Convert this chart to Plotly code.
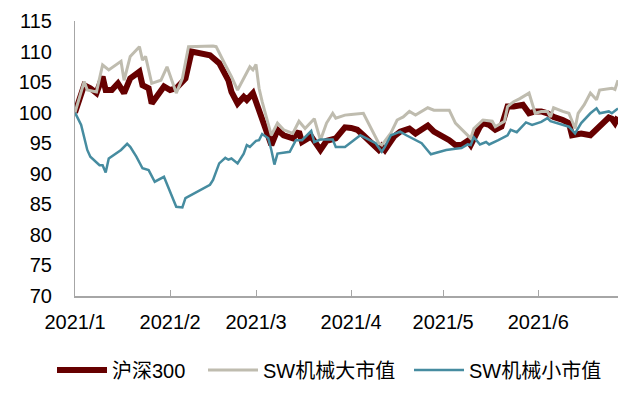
import plotly.graph_objects as go

# ---------------- data ----------------
hs300_dates = ["2021-01-04","2021-01-07","2021-01-09","2021-01-11","2021-01-13","2021-01-14","2021-01-16",
               "2021-01-18","2021-01-20","2021-01-22","2021-01-25","2021-01-26","2021-01-28","2021-01-29",
               "2021-02-02","2021-02-04","2021-02-06","2021-02-09","2021-02-11","2021-02-17","2021-02-20",
               "2021-02-23","2021-02-24","2021-02-26","2021-02-28","2021-03-01","2021-03-03","2021-03-05",
               "2021-03-06","2021-03-09","2021-03-11","2021-03-13","2021-03-16","2021-03-18","2021-03-19",
               "2021-03-22","2021-03-25","2021-03-27","2021-03-30","2021-04-02","2021-04-04","2021-04-06",
               "2021-04-08","2021-04-10","2021-04-13","2021-04-14","2021-04-15","2021-04-18","2021-04-20",
               "2021-04-23","2021-04-25","2021-04-29","2021-05-01","2021-05-06","2021-05-08","2021-05-10",
               "2021-05-12","2021-05-13","2021-05-15","2021-05-16","2021-05-17","2021-05-19","2021-05-21",
               "2021-05-23","2021-05-25","2021-05-27","2021-05-30","2021-06-01","2021-06-03","2021-06-05",
               "2021-06-07","2021-06-09","2021-06-12","2021-06-14","2021-06-15","2021-06-18","2021-06-21",
               "2021-06-24","2021-06-27","2021-06-28","2021-06-29","2021-06-30"]
hs300_vals = [100, 104.5, 104, 103.2, 105.9, 103.7, 103.7,
              104.8, 103.2, 105.6, 106.7, 104.5, 104, 101.5,
              104.3, 103.7, 104, 105.6, 110, 109.4, 108.1,
              105.3, 103.4, 101.5, 102.6, 102.1, 103.2, 100.4,
              98.5, 94.7, 97.2, 96.3, 95.8, 96.9, 95.2,
              96.1, 93.9, 95.4, 95.8, 97.6, 97.5, 97.2,
              96.3, 95.2, 93.9, 94.5, 93.9, 96.1, 96.9,
              97.4, 96.6, 97.9, 96.9, 95.5, 94.7, 94.7,
              95.4, 94.7, 96.9, 97.7, 98.3, 98, 97.2,
              97.7, 101, 101, 101.3, 99.9, 100.2, 100.2,
              99.9, 99.3, 98.8, 98.3, 96.3, 96.6, 96.3,
              97.7, 99.2, 99, 98.3, 99.3]

large_dates = ["2021-01-04","2021-01-07","2021-01-08","2021-01-11","2021-01-13","2021-01-15","2021-01-19",
               "2021-01-20","2021-01-22","2021-01-25","2021-01-26","2021-01-27","2021-01-29","2021-02-01",
               "2021-02-03","2021-02-06","2021-02-08","2021-02-10","2021-02-18","2021-02-19","2021-02-22",
               "2021-02-24","2021-02-26","2021-03-02","2021-03-03","2021-03-04","2021-03-05","2021-03-06",
               "2021-03-09","2021-03-11","2021-03-13","2021-03-16","2021-03-18","2021-03-20","2021-03-23",
               "2021-03-25","2021-03-27","2021-03-29","2021-03-30","2021-04-02","2021-04-04","2021-04-08",
               "2021-04-13","2021-04-14","2021-04-17","2021-04-19","2021-04-21","2021-04-23","2021-04-25",
               "2021-04-29","2021-05-01","2021-05-06","2021-05-08","2021-05-11","2021-05-13","2021-05-14",
               "2021-05-16","2021-05-17","2021-05-20","2021-05-21","2021-05-24","2021-05-25","2021-05-27",
               "2021-05-29","2021-06-01","2021-06-03","2021-06-05","2021-06-07","2021-06-08","2021-06-09",
               "2021-06-12","2021-06-14","2021-06-16","2021-06-17","2021-06-19","2021-06-21","2021-06-23",
               "2021-06-24","2021-06-28","2021-06-29","2021-06-30"]
large_vals = [100, 105.1, 103.7, 103.4, 107.8, 107, 108.4,
              105.3, 109.2, 110.8, 108.6, 109.2, 104.8, 105.3,
              107.5, 103.2, 105.6, 110.8, 110.9, 110.8, 107.8,
              105.9, 103.7, 107.5, 107, 107.9, 104, 101.8,
              96.3, 98.3, 97.2, 96.6, 98.6, 97.4, 99,
              95.5, 98.3, 99.9, 99.1, 99.6, 99.7, 99.9,
              95, 94.7, 96.7, 98.8, 99.3, 100.2, 99.6,
              100.8, 100.4, 100.4, 98.3, 96.9, 95.8, 97.4,
              98.3, 98.8, 98.6, 97.7, 98.6, 101, 101.8,
              102.3, 103.2, 99.9, 100.2, 100.2, 99.3, 100.8,
              100.2, 99.9, 97.4, 99.9, 101.3, 103.2, 102.1,
              103.7, 104, 103.8, 105.3]

small_dates = ["2021-01-04","2021-01-06","2021-01-08","2021-01-09","2021-01-12","2021-01-13","2021-01-14",
               "2021-01-15","2021-01-19","2021-01-21","2021-01-22","2021-01-24","2021-01-26","2021-01-28",
               "2021-01-30","2021-02-02","2021-02-06","2021-02-08","2021-02-09","2021-02-17","2021-02-18",
               "2021-02-20","2021-02-22","2021-02-23","2021-02-24","2021-02-26","2021-02-28","2021-03-01",
               "2021-03-02","2021-03-04","2021-03-05","2021-03-06","2021-03-08","2021-03-09","2021-03-10",
               "2021-03-11","2021-03-15","2021-03-17","2021-03-19","2021-03-22","2021-03-23","2021-03-25",
               "2021-03-29","2021-03-30","2021-04-02","2021-04-07","2021-04-09","2021-04-12","2021-04-14",
               "2021-04-15","2021-04-17","2021-04-20","2021-04-22","2021-04-25","2021-04-27","2021-04-30",
               "2021-05-05","2021-05-08","2021-05-10","2021-05-12","2021-05-13","2021-05-14","2021-05-16",
               "2021-05-18","2021-05-19","2021-05-22","2021-05-25","2021-05-26","2021-05-28","2021-05-31",
               "2021-06-02","2021-06-05","2021-06-07","2021-06-08","2021-06-14","2021-06-16","2021-06-18",
               "2021-06-21","2021-06-23","2021-06-24","2021-06-27","2021-06-28","2021-06-30"]
small_vals = [100, 98, 93.9, 92.8, 91.4, 91.4, 90.2,
              92.5, 93.9, 94.9, 94.4, 92.8, 90.9, 90.6,
              88.7, 89.5, 84.6, 84.5, 86, 88.2, 89,
              91.7, 92.6, 92.3, 92.5, 91.7, 93.3, 94.7,
              94.4, 95.4, 95.5, 96.5, 95.8, 93.9, 91.5,
              93.3, 93.6, 95.5, 95.5, 97, 95.2, 95.6,
              95.6, 94.4, 94.4, 96.3, 95.8, 95, 93.6,
              94.4, 96.3, 96.9, 96.3, 95.5, 95, 93.2,
              93.9, 94.1, 94.2, 94.8, 94.7, 96, 94.8,
              95.2, 94.8, 95.5, 96.3, 97.2, 96.8, 98.4,
              98, 98.5, 99.1, 98.6, 97.7, 96.6, 98.3,
              99.9, 100.7, 99.9, 100.2, 99.9, 100.7]

series_names = ["沪深300", "SW机械大市值", "SW机械小市值"]
tick_dates = ["2021-01-04", "2021-02-04", "2021-03-04", "2021-04-04", "2021-05-04", "2021-06-04"]
tick_labels = ["2021/1", "2021/2", "2021/3", "2021/4", "2021/5", "2021/6"]
y_ticks = [70, 75, 80, 85, 90, 95, 100, 105, 110, 115]

# ---------------- figure ----------------
FONT = "Liberation Sans, Arial, Noto Sans CJK SC, sans-serif"
RED = "#660000"
GRAY = "#BFBCAF"
TEAL = "#468CA0"

fig = go.Figure()
fig.add_trace(go.Scatter(x=hs300_dates, y=hs300_vals, mode="lines", name=series_names[0],
                         line=dict(color=RED, width=6), legend="legend"))
fig.add_trace(go.Scatter(x=large_dates, y=large_vals, mode="lines", name=series_names[1],
                         line=dict(color=GRAY, width=3), legend="legend2"))
fig.add_trace(go.Scatter(x=small_dates, y=small_vals, mode="lines", name=series_names[2],
                         line=dict(color=TEAL, width=2.5), legend="legend3"))

# page body has an 8px margin, so the figure is drawn 8px in from the window edge
W, H = 628, 381
L, R, T, B = 67, 18, 13, 93
pw = W - L - R
ph = H - T - B

def lx(px):
    return (px - L) / pw

leg_y = (H - B - 362) / ph
leg_common = dict(orientation="h", yanchor="middle", y=leg_y, xanchor="left",
                  bgcolor="rgba(0,0,0,0)", borderwidth=0, itemwidth=50,
                  font=dict(family=FONT, size=20, color="#000000"))

fig.update_layout(
    width=W, height=H,
    margin=dict(l=L, r=R, t=T, b=B, autoexpand=False),
    paper_bgcolor="white", plot_bgcolor="white",
    font=dict(family=FONT, size=20, color="#000000"),
    showlegend=True,
    legend=dict(x=lx(44), **leg_common),
    legend2=dict(x=lx(195), **leg_common),
    legend3=dict(x=lx(401), **leg_common),
)
fig.update_xaxes(
    type="date", range=["2021-01-04", "2021-06-30"],
    tickmode="array", tickvals=tick_dates, ticktext=tick_labels,
    showgrid=False, zeroline=False,
    showline=True, linecolor="#A6A6A6", linewidth=2,
    ticks="inside", ticklen=6, tickcolor="#A6A6A6", tickwidth=1,
    ticklabelstandoff=7,
    tickfont=dict(family=FONT, size=20, color="#000000"),
)
fig.update_yaxes(
    range=[70, 115], tickmode="array", tickvals=y_ticks,
    showgrid=False, zeroline=False,
    showline=True, linecolor="#A6A6A6", linewidth=1,
    ticks="", ticklabelstandoff=18,
    tickfont=dict(family=FONT, size=20, color="#000000"),
)

fig.write_html("out.html")
